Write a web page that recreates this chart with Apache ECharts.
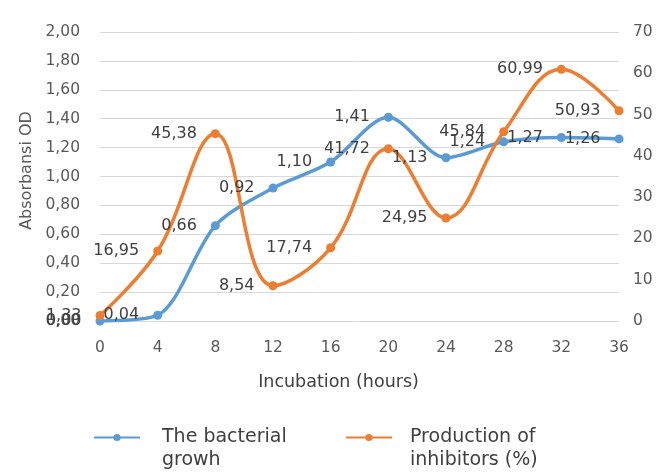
<!DOCTYPE html>
<html>
<head>
<meta charset="utf-8">
<script src="https://cdn.jsdelivr.net/npm/echarts@6/dist/echarts.min.js"></script>
<style>
  html, body { margin: 0; padding: 0; background: #fff; }
  #chart { width: 656px; height: 474px; }
</style>
</head>
<body>
<div id="chart"></div>
<script>
// incubation time (hours)
const hours = ['0', '4', '8', '12', '16', '20', '24', '28', '32', '36'];
// absorbance OD (left axis)
const growth = [0.00, 0.04, 0.66, 0.92, 1.10, 1.41, 1.13, 1.24, 1.27, 1.26];
// inhibitor production % (right axis)
const inhibitors = [1.33, 16.95, 45.38, 8.54, 17.74, 41.72, 24.95, 45.84, 60.99, 50.93];

const growthName = 'The bacterial\ngrowh';
const inhibName = 'Production of\ninhibitors (%)';

const axisColor = '#595959';
const labelColor = '#404040';
const font = 'DejaVu Sans, sans-serif';

const fmt = v => v.toFixed(2).replace('.', ',');

const chart = echarts.init(document.getElementById('chart'));

// legend: icon sits on the first text line (blank line on top keeps it centred there)
function makeLegend(name, left, gap) {
  return {
    left: left,
    top: 398,
    itemWidth: 46,
    itemHeight: 9,
    data: [name],
    formatter: n => ' \n' + n,
    textStyle: {
      color: labelColor, fontSize: 19, lineHeight: 23,
      fontFamily: font, padding: [0, 0, 0, gap]
    }
  };
}

const option = {
  animation: false,
  textStyle: { fontFamily: font },
  grid: { left: 100, right: 37, top: 32, bottom: 153 },
  legend: [makeLegend(growthName, 88, 17), makeLegend(inhibName, 340, 13)],
  xAxis: {
    type: 'category',
    data: hours,
    boundaryGap: false,
    name: 'Incubation (hours)',
    nameLocation: 'middle',
    nameGap: 52,
    nameTextStyle: { color: labelColor, fontSize: 17.5, padding: [0, 42, 0, 0] },
    axisLine: { show: false },
    axisTick: { show: false },
    axisLabel: { color: axisColor, fontSize: 15.5, margin: 19 }
  },
  yAxis: [
    {
      type: 'value',
      min: 0,
      max: 2,
      interval: 0.2,
      name: 'Absorbansi OD',
      nameLocation: 'middle',
      nameGap: 64,
      nameTextStyle: { color: axisColor, fontSize: 16, padding: [0, 0, 0, 12] },
      axisLabel: { color: axisColor, fontSize: 15.5, margin: 20, formatter: v => fmt(v) },
      splitLine: { lineStyle: { color: '#d9d9d9' } }
    },
    {
      type: 'value',
      min: 0,
      max: 70,
      interval: 10,
      axisLabel: { color: axisColor, fontSize: 15.5, margin: 14 },
      splitLine: { show: false }
    }
  ],
  series: [
    {
      name: growthName,
      type: 'line',
      yAxisIndex: 0,
      data: growth,
      smooth: 0.3,
      symbol: 'circle',
      symbolSize: 9,
      lineStyle: { width: 3.5, color: '#5B9BD5' },
      itemStyle: { color: '#5B9BD5' },
      label: {
        show: true,
        position: 'left',
        distance: 14,
        color: labelColor,
        fontSize: 16,
        formatter: p => fmt(p.value)
      }
    },
    {
      name: inhibName,
      type: 'line',
      yAxisIndex: 1,
      data: inhibitors,
      smooth: 0.4,
      symbol: 'circle',
      symbolSize: 9,
      lineStyle: { width: 3.5, color: '#ED7D31' },
      itemStyle: { color: '#ED7D31' },
      label: {
        show: true,
        position: 'left',
        distance: 14,
        color: labelColor,
        fontSize: 16,
        formatter: p => fmt(p.value)
      }
    }
  ]
};

chart.setOption(option);
</script>
</body>
</html>
